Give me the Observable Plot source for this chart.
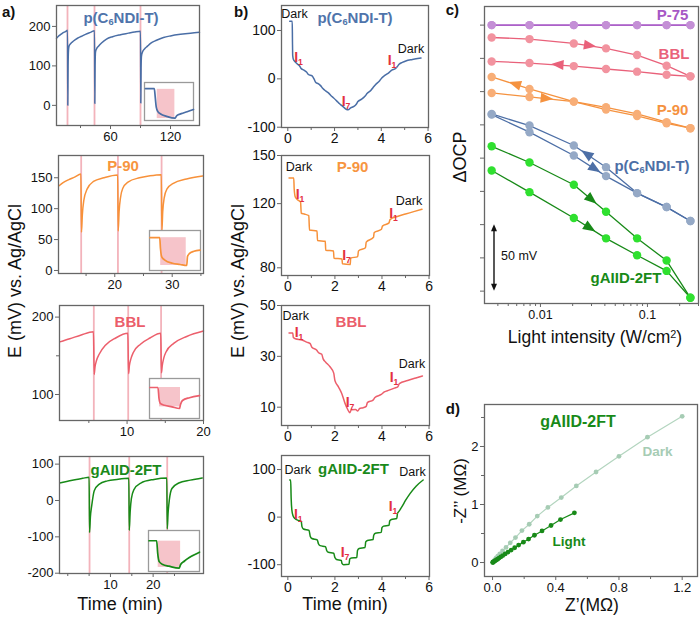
<!DOCTYPE html>
<html>
<head>
<meta charset="utf-8">
<script src="https://cdn.jsdelivr.net/npm/d3@7"></script>
<script src="https://cdn.jsdelivr.net/npm/@observablehq/plot@0.6"></script>
<style>
html,body{margin:0;padding:0;background:#fff;}
#fig{position:relative;width:700px;height:619px;overflow:hidden;font-family:"Liberation Sans",Arial,Helvetica,sans-serif;color:#111;}
#fig svg{overflow:visible;}
.lab{position:absolute;white-space:nowrap;line-height:1;}
.lab sub{font-size:0.62em;vertical-align:-0.3em;line-height:0;}
.lab sup{font-size:0.62em;vertical-align:0.5em;line-height:0;}
</style>
</head>
<body>
<div id="fig"></div>
<script>
// ================= DATA =================
// Panel a: OCP transients, [time (min), E (mV)]
const a1Trace = [[6,170],[8,175],[10,179],[12,183],[15,187],[17,190],[17.3,0],[17.6,100],[18,140],[18.5,150],[20,156],[23,163],[27,170],[31,175],[35,180],[40,185],[44,189],[44.3,5],[44.6,100],[45,135],[46,143],[48,150],[51,158],[56,168],[62,174],[70,179],[78,183],[84,186],[90,188],[90.3,6],[90.6,95],[91,125],[92,135],[94,143],[97,150],[100,157],[106,165],[113,172],[120,176],[130,180],[140,183],[149,185]];
const a1Light = [17, 44, 90];
const a2Trace = [[10.3,137],[11,142],[12,147],[13,151],[14.1,156],[14.2,62],[14.35,90],[14.6,113],[15.2,132],[16.3,144],[18.1,150],[20.5,154.5],[20.6,64],[20.75,95],[21.0,118],[21.4,133],[22.3,143],[24.3,150],[26,153],[28.1,155],[28.2,64],[28.35,95],[28.6,117],[29.1,132],[30.2,141],[32.5,148],[35.3,153]];
const a2Light = [14.15, 20.55, 28.15];
const a3Trace = [[1.2,168],[2.5,172],[4,177],[5.6,181],[5.7,126],[5.8,135],[6.0,144],[6.35,152],[7.2,164],[8.5,173],[10.1,179],[10.2,127],[10.3,137],[10.5,146],[10.8,154],[11.75,165],[13.0,173],[14.4,179],[14.5,128],[14.6,137],[14.8,147],[15.1,155],[16.1,166],[17.8,175],[20,182]];
const a3Light = [5.65, 10.15, 14.45];
const a4Trace = [[-1.9,48],[0,53],[2,58],[3.5,61],[5.0,64],[5.1,-88],[5.3,-45],[5.6,-15],[6.2,27],[7.4,45],[9.3,54],[11.5,58],[14.3,61],[14.4,-82],[14.6,-35],[14.9,5],[15.5,30],[17.1,48],[20.2,58],[23.2,62],[23.3,-78],[23.5,-35],[23.8,2],[24.4,33],[26,48],[28.7,56],[31.5,62]];
const a4Light = [5.1, 14.4, 23.3];
// insets (relative units): [x, y-from-top]; shaded window [x1,x2,y1,y2]
const a1Inset = [[0.02,0.16],[0.2,0.16],[0.22,0.4],[0.24,0.65],[0.27,0.76],[0.33,0.83],[0.45,0.89],[0.62,0.94],[0.66,0.87],[0.75,0.82],[0.87,0.77],[1.0,0.71]];
const a1Window = [0.26,0.62,0.18,0.95];
const a2Inset = [[0.01,0.18],[0.2,0.18],[0.215,0.45],[0.24,0.66],[0.3,0.74],[0.45,0.82],[0.6,0.85],[0.73,0.875],[0.745,0.65],[0.78,0.58],[0.87,0.52],[0.99,0.49]];
const a2Window = [0.22,0.72,0.18,0.875];
const a3Inset = [[0.01,0.225],[0.17,0.225],[0.19,0.5],[0.22,0.63],[0.3,0.67],[0.45,0.71],[0.6,0.75],[0.62,0.65],[0.66,0.55],[0.8,0.48],[1.0,0.43]];
const a3Window = [0.2,0.62,0.225,0.71];
const a4Inset = [[0.01,0.25],[0.16,0.25],[0.18,0.55],[0.21,0.76],[0.28,0.83],[0.4,0.87],[0.6,0.92],[0.63,0.83],[0.7,0.75],[0.8,0.66],[0.9,0.59],[1.0,0.53]];
const a4Window = [0.19,0.63,0.26,0.9];

// Panel b: stepped illumination, [time (min), E (mV)]
const b1Trace = [[0.08,119],[0.19,119],[0.2,75],[0.21,48],[0.24,40],[0.3,36],[0.4,31],[0.5,27],[0.56,22],[0.69,18],[0.8,14],[0.88,9],[1.04,6],[1.12,0],[1.19,-7],[1.3,-10],[1.4,-14],[1.5,-20],[1.62,-25],[1.76,-30],[1.85,-35],[1.95,-39],[2.1,-46],[2.2,-51],[2.3,-55],[2.4,-59],[2.5,-63],[2.58,-64],[2.69,-60],[2.83,-57],[2.92,-53],[3.0,-47],[3.16,-42],[3.3,-36],[3.4,-30],[3.55,-24],[3.65,-18],[3.75,-12],[3.93,-4],[4.02,2],[4.15,7],[4.33,13],[4.45,18],[4.6,21],[4.68,25],[4.76,30],[4.9,34],[5.05,37],[5.33,40],[5.7,43]];
const b2Trace = [[0.05,136],[0.25,136],[0.27,129],[0.32,124],[0.45,122],[0.54,121],[0.57,114],[0.7,113.5],[0.89,112.5],[0.92,103.5],[1.24,103],[1.26,97],[1.59,96.5],[1.61,91],[1.94,90.5],[1.96,86],[2.3,85.5],[2.32,82.5],[2.65,82],[2.67,86],[2.97,87],[3.0,90.5],[3.3,92.5],[3.33,96],[3.64,99],[3.67,102],[3.98,104],[4.02,106],[4.3,108],[4.34,110],[4.65,112],[5.0,113.5],[5.35,115],[5.7,116.5]];
const b3Trace = [[0.05,39.2],[0.21,39.2],[0.23,37.5],[0.32,36.9],[0.6,36.4],[0.8,35.6],[0.95,35],[1.02,33.6],[1.23,32.4],[1.3,31.5],[1.44,30.8],[1.5,29],[1.6,27.8],[1.8,25.8],[1.95,23.4],[2.0,20.5],[2.15,18],[2.29,15.4],[2.43,11.5],[2.55,9],[2.63,7.8],[2.7,9],[2.88,9.1],[2.97,8.5],[3.05,9.5],[3.2,9.8],[3.33,10.3],[3.38,11.8],[3.62,12.8],[3.7,13.8],[3.97,15],[4.1,16],[4.3,16.7],[4.53,17.5],[4.67,18],[4.74,19.3],[5.09,20.5],[5.44,21.5],[5.72,22.3]];
const b4Trace = [[0.08,78],[0.12,78],[0.14,40],[0.17,15],[0.22,3],[0.3,-3],[0.45,-7],[0.57,-9],[0.6,-20],[0.66,-25],[0.9,-28],[0.95,-40],[1.02,-45],[1.25,-48],[1.3,-56],[1.37,-60],[1.6,-62],[1.65,-70],[1.72,-74],[1.95,-76],[2.0,-85],[2.07,-89],[2.27,-91],[2.3,-97],[2.37,-100],[2.6,-99],[2.63,-88],[2.7,-86],[2.93,-85],[2.96,-70],[3.03,-66],[3.28,-64],[3.31,-52],[3.38,-49],[3.62,-47],[3.65,-38],[3.72,-34],[3.97,-32],[4.0,-22],[4.07,-19],[4.3,-17],[4.33,-8],[4.4,-5],[4.63,-3],[4.66,8],[4.72,12],[4.85,22],[5.0,35],[5.2,50],[5.45,65],[5.75,78]];

// Panel c: ΔOCP (mV, relative) vs light intensity (W/cm2)
const intensity = [0.0035, 0.0079, 0.0205, 0.041, 0.080, 0.151, 0.252];
const p75 = [0, 0, 0, 0, 0, 0, 0];
const bblUp = [-9.3, -10.5, -13.8, -17.5, -22.5, -30.5, -38.5];
const bblLow = [-27.3, -28.5, -30.8, -33, -35, -37.3, -38.5];
const p90Up = [-39, -48, -57.5, -61.8, -66.8, -73, -77.5];
const p90Low = [-51, -54, -57.5, -63.5, -68.3, -73.8, -77.5];
const ndiUp = [-66.8, -75.5, -90.5, -106.8, -126.3, -136.8, -147.3];
const ndiLow = [-67.3, -80.5, -98, -113.5, -126.3, -136.8, -147.3];
const gUp = [-91.1, -103.3, -120, -140.3, -160.3, -177, -205];
const gLow = [-109.3, -125.6, -145, -160.3, -173, -184.8, -205];

// Panel d: Nyquist, Z' and -Z'' (MΩ)
const darkZre = [0.002,0.005,0.009,0.015,0.023,0.033,0.046,0.063,0.085,0.112,0.145,0.186,0.232,0.283,0.350,0.435,0.530,0.655,0.800,0.980,1.200];
const darkZim = [0.005,0.015,0.03,0.05,0.08,0.11,0.15,0.20,0.26,0.34,0.43,0.55,0.66,0.80,0.95,1.12,1.32,1.56,1.83,2.16,2.52];
const lightZre = [0.001,0.003,0.006,0.011,0.017,0.024,0.032,0.041,0.052,0.065,0.080,0.098,0.118,0.140,0.165,0.195,0.228,0.265,0.313,0.370,0.430,0.518];
const lightZim = [0.002,0.005,0.012,0.021,0.032,0.044,0.058,0.076,0.096,0.12,0.148,0.18,0.215,0.255,0.30,0.35,0.405,0.47,0.545,0.638,0.741,0.856];

// ================= STYLE =================
const FONT = '"Liberation Sans", Arial, Helvetica, sans-serif';
const C = {
  ndi: "#4a6ea6", p90: "#f7913a", bbl: "#ec5f6c", g: "#178a17",
  ndiT: "#4f74ab", p90T: "#f7953f", bblT: "#eb5d6b", gT: "#1a8a1a",
  pink: "#f3b3bb", red: "#e4303f",
  p75L: "#a657c5", p75P: "#c48fd6", bblL: "#e9617a", bblP: "#f2939f",
  p90L: "#f5923f", p90P: "#f8ae77", ndiL: "#4d6fa6", ndiP: "#95a9c6",
  gL: "#188a18", gP: "#2fe02f", dark: "#b3d5bf", darkP: "#a6ccb4"
};
const fig = document.getElementById("fig");

function place(node, left, top) {
  node.style.position = "absolute";
  node.style.left = left + "px";
  node.style.top = top + "px";
  fig.appendChild(node);
}

function chart(o) {
  const ml = 44, mr = 8, mt = 8, mb = 28;
  const tc = "#666";
  const fmtX = o.xFmt || (d => String(d));
  const fmtY = o.yLabels === false ? (() => "") : (o.yFmt || (d => String(d)));
  const axes = [];
  if (o.xMinor) axes.push(Plot.axisX({ticks: o.xMinor, tickSize: 3, tickFormat: () => "", label: null, stroke: tc}));
  if (o.xTicks) axes.push(Plot.axisX({ticks: o.xTicks, tickSize: 4, tickPadding: o.xPad ?? 2, tickFormat: fmtX, label: null, stroke: tc}));
  if (o.yMinor) axes.push(Plot.axisY({ticks: o.yMinor, tickSize: 3, tickFormat: () => "", label: null, stroke: tc}));
  if (o.yTicks) axes.push(Plot.axisY({ticks: o.yTicks, tickSize: 4, tickPadding: 2, tickFormat: fmtY, label: null, stroke: tc}));
  const p = Plot.plot({
    width: ml + o.fw + mr, height: mt + o.fh + mb,
    marginLeft: ml, marginRight: mr, marginTop: mt, marginBottom: mb,
    x: {...o.x, axis: null}, y: {...o.y, axis: null},
    style: {fontSize: (o.fs || 13) + "px", fontFamily: FONT, background: "transparent", color: "#111", overflow: "visible"},
    marks: [...(o.marks || []), Plot.frame({stroke: "#666", strokeWidth: 1.3}), ...axes]
  });
  place(p, o.fl - ml, o.ft - mt);
  return p;
}

function inset(fl, ft, fw, fh, line, win, color) {
  const p = Plot.plot({
    width: fw, height: fh, margin: 0,
    x: {domain: [0, 1], axis: null}, y: {domain: [1, 0], axis: null},
    style: {background: "transparent", overflow: "visible"},
    marks: [
      Plot.frame({fill: "#fff", stroke: "#9a9a9a", strokeWidth: 1.3}),
      Plot.rect([win], {x1: d => d[0], x2: d => d[1], y1: d => d[2], y2: d => d[3], fill: "#f6c4ca"}),
      Plot.line(line, {x: d => d[0], y: d => d[1], stroke: color, strokeWidth: 1.7, curve: "monotone-x"})
    ]
  });
  place(p, fl, ft);
}

const tx = d => d[0], ty = d => d[1];
function trace(data, color) {
  return Plot.line(data, {x: tx, y: ty, stroke: color, strokeWidth: 1.5, curve: "monotone-x"});
}
function lights(times) {
  return Plot.ruleX(times, {stroke: C.pink, strokeWidth: 1.8});
}

// ================= PANEL a =================
chart({fl: 56, ft: 5, fw: 143, fh: 120, x: {domain: [6, 149]}, y: {domain: [-51, 253]},
  xTicks: [60, 120], xMinor: [30, 90], yTicks: [0, 100, 200],
  marks: [lights(a1Light), trace(a1Trace, C.ndi)]});
inset(144, 82, 49, 38, a1Inset, a1Window, C.ndi);

chart({fl: 58, ft: 155, fw: 145, fh: 118, x: {domain: [10.2, 35.45]}, y: {domain: [-4.9, 186]},
  xTicks: [20, 30], xMinor: [15, 25, 35], yTicks: [0, 50, 100, 150],
  marks: [lights(a2Light), trace(a2Trace, C.p90)]});
inset(149, 230, 51, 40, a2Inset, a2Window, C.p90);

chart({fl: 59, ft: 305, fw: 144, fh: 115, x: {domain: [1.16, 20]}, y: {domain: [66.4, 215]},
  xTicks: [10, 20], xMinor: [5, 15], yTicks: [100, 200], yMinor: [150],
  marks: [lights(a3Light), trace(a3Trace, C.bbl)]});
inset(149, 378, 50, 40, a3Inset, a3Window, C.bbl);

chart({fl: 59, ft: 456, fw: 144, fh: 117, x: {domain: [-1.94, 31.8]}, y: {domain: [-200.8, 121]},
  xTicks: [10, 20], xMinor: [0, 5, 15, 25], yTicks: [-200, -100, 0, 100],
  marks: [lights(a4Light), trace(a4Trace, C.g)]});
inset(148, 530, 51, 41, a4Inset, a4Window, C.g);

// ================= PANEL b =================
const bx = {domain: [-0.27, 6.02]};
chart({fl: 281, ft: 5, fw: 147, fh: 122, x: bx, y: {domain: [-100.6, 151.7]},
  xTicks: [0, 2, 4, 6], xMinor: [1, 3, 5], yTicks: [-100, 0, 100], fs: 14,
  marks: [trace(b1Trace, C.ndi)]});
chart({fl: 281, ft: 155, fw: 148, fh: 120, x: bx, y: {domain: [75.2, 150]},
  xTicks: [0, 2, 4, 6], xMinor: [1, 3, 5], yTicks: [80, 120, 150], fs: 14,
  marks: [trace(b2Trace, C.p90)]});
chart({fl: 281, ft: 305, fw: 148, fh: 120, x: bx, y: {domain: [2.8, 50]},
  xTicks: [0, 2, 4, 6], xMinor: [1, 3, 5], yTicks: [10, 30, 50], fs: 14,
  marks: [trace(b3Trace, C.bbl)]});
chart({fl: 281, ft: 455, fw: 148, fh: 121, x: bx, y: {domain: [-124.8, 129.5]},
  xTicks: [0, 2, 4, 6], xMinor: [1, 3, 5], yTicks: [-100, 0, 100], fs: 14,
  marks: [trace(b4Trace, C.g)]});

// ================= PANEL c =================
const cSeries = [
  {up: p75, low: p75, L: C.p75L, P: C.p75P},
  {up: bblUp, low: bblLow, L: C.bblL, P: C.bblP},
  {up: p90Up, low: p90Low, L: C.p90L, P: C.p90P},
  {up: ndiUp, low: ndiLow, L: C.ndiL, P: C.ndiP},
  {up: gUp, low: gLow, L: C.gL, P: C.gP}
];
const rows = arr => intensity.map((x, i) => ({x, y: arr[i]}));
const cLines = [], cDots = [];
for (const s of cSeries) {
  for (const br of [s.up, s.low]) {
    cLines.push(Plot.line(rows(br), {x: "x", y: "y", stroke: s.L, strokeWidth: 1.3}));
    cDots.push(Plot.dot(rows(br), {x: "x", y: "y", r: 4.2, fill: s.P}));
  }
}
const cArrowSpecs = [
  {b: bblUp, x: 0.0293, dir: 1, c: C.bblL},
  {b: bblLow, x: 0.0146, dir: -1, c: C.bblL},
  {b: p90Up, x: 0.00583, dir: -1, c: C.p90L},
  {b: p90Low, x: 0.01156, dir: 1, c: C.p90L},
  {b: ndiUp, x: 0.0273, dir: -1, c: C.ndiL},
  {b: ndiLow, x: 0.0327, dir: 1, c: C.ndiL},
  {b: gUp, x: 0.0304, dir: 1, c: C.gL},
  {b: gLow, x: 0.0293, dir: 1, c: C.gL}
];
function cArrows(index, scales) {
  const g = d3.create("svg:g");
  for (const s of cArrowSpecs) {
    let i = d3.bisectRight(intensity, s.x) - 1;
    i = Math.max(0, Math.min(intensity.length - 2, i));
    const x0 = scales.x(intensity[i]), x1 = scales.x(intensity[i + 1]);
    const y0 = scales.y(s.b[i]), y1 = scales.y(s.b[i + 1]);
    const px = scales.x(s.x), t = (px - x0) / (x1 - x0), py = y0 + t * (y1 - y0);
    let ang = Math.atan2(y1 - y0, x1 - x0) * 180 / Math.PI;
    if (s.dir < 0) ang += 180;
    g.append("path").attr("d", "M6.5,0L-6,-5L-6,5Z")
      .attr("transform", `translate(${px},${py}) rotate(${ang})`).attr("fill", s.c);
  }
  return g.node();
}
const scaleBar = {x: 0.00372, top: -150, bottom: -200};
function cScaleBar(index, scales) {
  const g = d3.create("svg:g");
  const x = scales.x(scaleBar.x), ya = scales.y(scaleBar.top), yb = scales.y(scaleBar.bottom);
  g.append("line").attr("x1", x).attr("x2", x).attr("y1", ya + 4).attr("y2", yb - 4)
    .attr("stroke", "#111").attr("stroke-width", 1.4);
  g.append("path").attr("d", `M${x},${ya}L${x - 3},${ya + 7}L${x + 3},${ya + 7}Z`).attr("fill", "#111");
  g.append("path").attr("d", `M${x},${yb}L${x - 3},${yb - 7}L${x + 3},${yb - 7}Z`).attr("fill", "#111");
  return g.node();
}
chart({fl: 484, ft: 6, fw: 214, fh: 297, x: {type: "log", domain: [0.003, 0.3]}, y: {domain: [-209.3, 14]},
  xTicks: [0.01, 0.1], xPad: 3, xFmt: d => (d === 0.01 ? "0.01" : "0.1"),
  xMinor: [0.004, 0.005, 0.006, 0.007, 0.008, 0.009, 0.02, 0.03, 0.04, 0.05, 0.06, 0.07, 0.08, 0.09, 0.2, 0.3],
  yTicks: [0, -25, -50, -75, -100, -125, -150, -175, -200], yLabels: false, fs: 12.5,
  marks: [...cLines, ...cDots, cArrows, cScaleBar]});

// ================= PANEL d =================
const darkRows = darkZre.map((x, i) => ({x, y: darkZim[i]}));
const lightRows = lightZre.map((x, i) => ({x, y: lightZim[i]}));
chart({fl: 484, ft: 404, fw: 213, fh: 172, x: {domain: [-0.051, 1.297]}, y: {domain: [-0.241, 2.724]},
  xTicks: [0, 0.4, 0.8, 1.2], xFmt: d => d.toFixed(1), xMinor: [0.2, 0.6, 1.0],
  yTicks: [0, 1, 2], yMinor: [0.5, 1.5, 2.5], fs: 13,
  marks: [
    Plot.line(darkRows, {x: "x", y: "y", stroke: C.dark, strokeWidth: 1.2}),
    Plot.dot(darkRows, {x: "x", y: "y", r: 2.4, fill: C.darkP}),
    Plot.line(lightRows, {x: "x", y: "y", stroke: C.gL, strokeWidth: 1.2}),
    Plot.dot(lightRows, {x: "x", y: "y", r: 2.4, fill: C.gL})
  ]});

// ================= TEXT =================
function lab(html, x, y, o = {}) {
  const d = document.createElement("div");
  d.className = "lab";
  d.innerHTML = html;
  const ax = o.anchor === "start" ? "0%" : o.anchor === "end" ? "-100%" : "-50%";
  d.style.left = x + "px";
  d.style.top = y + "px";
  d.style.fontSize = (o.size || 13) + "px";
  d.style.fontWeight = o.bold ? "bold" : "normal";
  d.style.color = o.color || "#111";
  d.style.transform = `translate(${ax}, -50%)` + (o.rot ? ` rotate(${o.rot}deg)` : "");
  fig.appendChild(d);
}
// panel letters
lab("a)", 2, 11, {anchor: "start", bold: true, size: 15});
lab("b)", 234, 11, {anchor: "start", bold: true, size: 15});
lab("c)", 459, 9, {anchor: "end", bold: true, size: 15});
lab("d)", 460, 408, {anchor: "end", bold: true, size: 15});
// axis titles
lab("E (mV) vs. Ag/AgCl", 15, 281, {size: 18, rot: -90});
lab("E (mV) vs. Ag/AgCl", 238, 281, {size: 18, rot: -90});
lab("Time (min)", 120, 604, {size: 18});
lab("Time (min)", 345, 604, {size: 18});
lab("ΔOCP", 460, 157, {size: 18, rot: -90});
lab("Light intensity (W/cm<sup>2</sup>)", 595, 338, {size: 17.5});
lab("-Z’’ (MΩ)", 460, 491, {size: 17, rot: -90});
lab("Z’(MΩ)", 592, 606, {size: 17.5});
// panel a titles
const NDI = "p(C<sub>6</sub>NDI-T)";
lab(NDI, 121, 17, {bold: true, size: 15, color: C.ndiT});
lab("P-90", 123, 165, {bold: true, size: 15, color: C.p90T});
lab("BBL", 130, 321, {bold: true, size: 15, color: C.bblT});
lab("gAIID-2FT", 126, 469, {bold: true, size: 15, color: C.gT});
// panel b titles
lab(NDI, 355, 17, {bold: true, size: 15, color: C.ndiT});
lab("P-90", 352.5, 166, {bold: true, size: 15, color: C.p90T});
lab("BBL", 351, 321, {bold: true, size: 15, color: C.bblT});
lab("gAIID-2FT", 353.5, 468, {bold: true, size: 15, color: C.gT});
// panel b annotations
const darkLabels = [[294.5, 14], [411, 49], [299, 167], [409, 200.5], [295.7, 316], [412, 364], [297.7, 470], [412.5, 472]];
for (const [x, y] of darkLabels) lab("Dark", x, y, {size: 12.5});
const iLabels = [[298.5, 57, "1"], [346, 100.5, "7"], [392, 59.7, "1"],
  [300, 193.5, "1"], [346.5, 255, "7"], [393.5, 213, "1"],
  [299, 332, "1"], [350, 401.5, "7"], [394, 377, "1"],
  [298.3, 514, "1"], [345, 552, "7"], [393, 505.5, "1"]];
for (const [x, y, s] of iLabels) lab(`I<sub>${s}</sub>`, x, y, {size: 14, bold: true, color: C.red});
// panel c labels
lab("P-75", 672.5, 14, {bold: true, size: 15, color: C.p75L});
lab("BBL", 674, 53, {bold: true, size: 15, color: C.bblL});
lab("P-90", 672.5, 109, {bold: true, size: 15, color: C.p90L});
lab(NDI, 652, 165, {bold: true, size: 15, color: C.ndiL});
lab("gAIID-2FT", 626, 277, {bold: true, size: 15, color: C.gL});
lab("50 mV", 501, 256, {anchor: "start", size: 12.5});
// panel d labels
lab("gAIID-2FT", 578, 422, {bold: true, size: 16, color: C.gL});
lab("Dark", 657.5, 452, {bold: true, size: 13.5, color: C.darkP});
lab("Light", 569, 542, {bold: true, size: 13.5, color: C.gL});
</script>
</body>
</html>
